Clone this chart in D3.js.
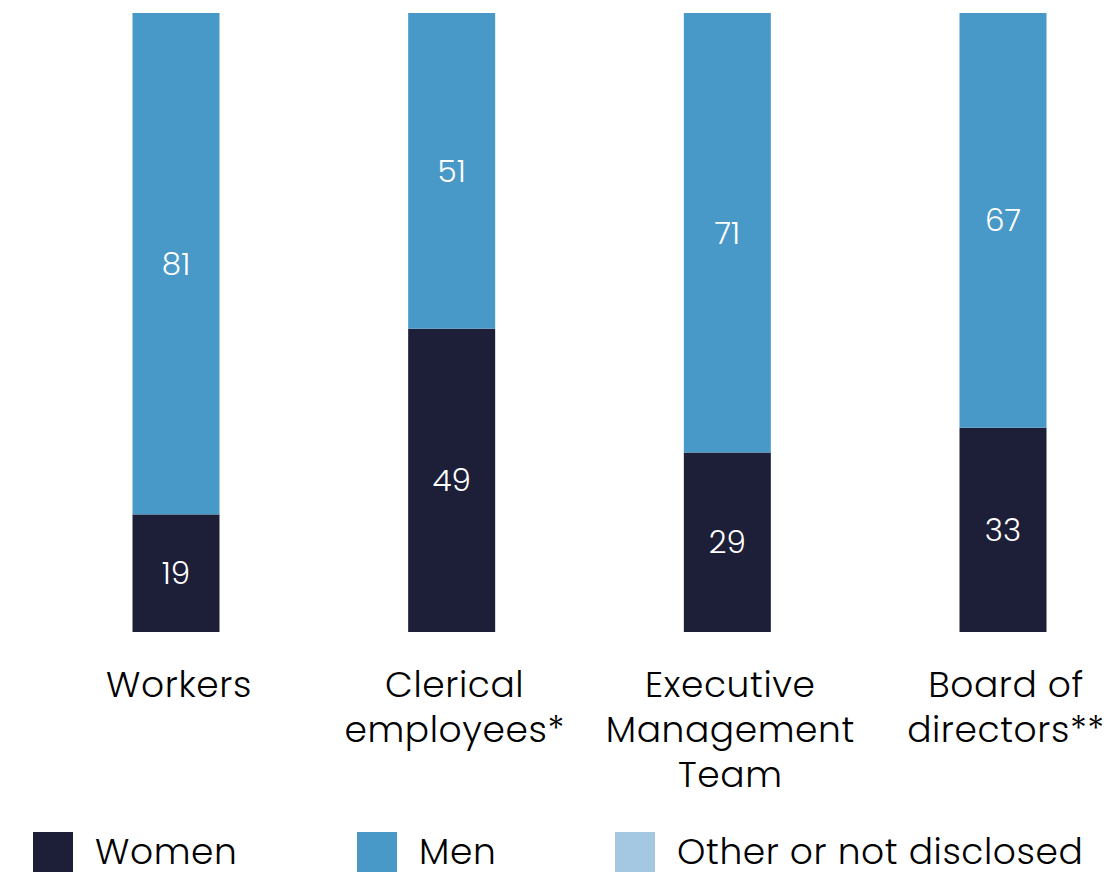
<!DOCTYPE html>
<html>
<head>
<meta charset="utf-8">
<script src="https://cdn.jsdelivr.net/npm/d3@7"></script>
<style>
  html, body { margin: 0; padding: 0; background: #ffffff; }
  svg text { font-family: Poppins, Inter, "Noto Sans", sans-serif; font-weight: 300; }
</style>
</head>
<body>
<svg id="chart" width="1112" height="873"></svg>
<script>
// Gender split (%) by employee group
const categories = ["Workers", "Clerical employees*", "Executive Management Team", "Board of directors**"];
const categoryLines = [["Workers"], ["Clerical", "employees*"], ["Executive", "Management", "Team"], ["Board of", "directors**"]];
const women = [19, 49, 29, 33];
const men = [81, 51, 71, 67];
const other = [0, 0, 0, 0];
const seriesNames = ["Women", "Men", "Other or not disclosed"];
const seriesColors = ["#1d1e38", "#4898c8", "#a4c8e2"];

const svg = d3.select("#chart");

const rows = categories.map((c, i) => ({ category: c, Women: women[i], Men: men[i], "Other or not disclosed": other[i] }));
const stacked = d3.stack().keys(seriesNames)(rows);

const x = d3.scalePoint().domain(categories).range([176, 1003]);
const barWidth = 87;
const y = d3.scaleLinear().domain([0, 100]).range([632, 13]);
const color = d3.scaleOrdinal().domain(seriesNames).range(seriesColors);

const layers = svg.append("g").selectAll("g")
  .data(stacked)
  .join("g")
  .attr("fill", d => color(d.key));

layers.selectAll("rect")
  .data(d => d.map(p => ({ key: d.key, p })))
  .join("rect")
  .attr("x", d => x(d.p.data.category) - barWidth / 2)
  .attr("width", barWidth)
  .attr("y", d => y(d.p[1]))
  .attr("height", d => y(d.p[0]) - y(d.p[1]));

// Value labels inside each segment
layers.selectAll("text")
  .data(d => d.map(p => ({ key: d.key, p })).filter(d => d.p[1] - d.p[0] > 0))
  .join("text")
  .attr("x", d => x(d.p.data.category))
  .attr("y", d => (y(d.p[0]) + y(d.p[1])) / 2)
  .attr("dy", "0.35em")
  .attr("text-anchor", "middle")
  .attr("fill", "#ffffff")
  .attr("font-size", 31)
  .text(d => d.p[1] - d.p[0]);

// Category labels below the bars
const catLabels = svg.append("g").selectAll("text")
  .data(categories)
  .join("text")
  .attr("x", d => x(d) + 3)
  .attr("y", 697)
  .attr("text-anchor", "middle")
  .attr("fill", "#000000")
  .attr("font-size", 36)
  .attr("letter-spacing", 0.6);
catLabels.selectAll("tspan")
  .data((d, i) => categoryLines[i])
  .join("tspan")
  .attr("x", function () { return this.parentNode.getAttribute("x"); })
  .attr("dy", (d, i) => i === 0 ? 0 : 45)
  .text(d => d);

// Legend
const legendX = [33, 357, 615];
const legend = svg.append("g").selectAll("g")
  .data(seriesNames)
  .join("g")
  .attr("transform", (d, i) => `translate(${legendX[i]},832)`);
legend.append("rect")
  .attr("width", 40)
  .attr("height", 40)
  .attr("fill", d => color(d));
legend.append("text")
  .attr("x", 62)
  .attr("y", 32)
  .attr("fill", "#000000")
  .attr("font-size", 36)
  .attr("letter-spacing", 0.6)
  .text(d => d);
</script>
</body>
</html>
